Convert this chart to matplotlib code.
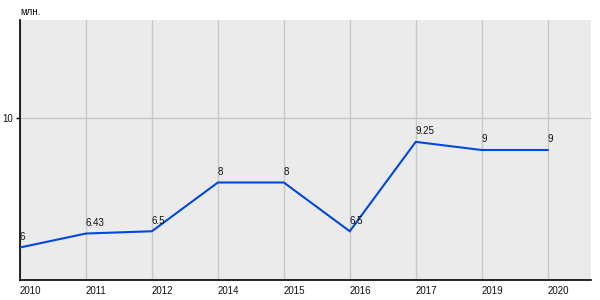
import matplotlib
matplotlib.use("Agg")
from matplotlib import pyplot as plt

years = ["2010", "2011", "2012", "2014", "2015", "2016", "2017", "2019", "2020"]
values = [6, 6.43, 6.5, 8, 8, 6.5, 9.25, 9, 9]
value_labels = ["6", "6.43", "6.5", "8", "8", "6.5", "9.25", "9", "9"]
y_ticks = [10]
unit_label = "млн."

plt.rcParams["font.family"] = ["Liberation Sans", "DejaVu Sans"]

fig = plt.figure(figsize=(6, 3), dpi=100)
ax = fig.add_axes([20 / 600, 20 / 300, 570.5 / 600, 260 / 300])
ax.set_facecolor("#ebebeb")

x = list(range(len(years)))
ax.plot(x, values, color="#0048e0", linewidth=1.5, solid_joinstyle="miter", zorder=3)

for xi, v, lab in zip(x, values, value_labels):
    ax.annotate(
        lab,
        (xi, v),
        xytext=(0, 4),
        textcoords="offset points",
        ha="left",
        va="bottom",
        fontsize=7,
        color="#111111",
    )

ax.set_xlim(0, 8.65)
ax.set_ylim(5, 13)
ax.set_xticks(x)
ax.set_xticklabels(years, ha="left", fontsize=7, color="#111111")
ax.set_yticks(y_ticks)
ax.set_yticklabels([str(t) for t in y_ticks], fontsize=7, color="#111111")
ax.tick_params(axis="x", length=0, pad=4)
ax.tick_params(axis="y", length=3, width=1, pad=2)

ax.grid(True, color="#c8c8c8", linewidth=1)
ax.set_axisbelow(True)

for side in ["top", "right"]:
    ax.spines[side].set_visible(False)
for side in ["left", "bottom"]:
    ax.spines[side].set_color("black")
    ax.spines[side].set_linewidth(1.2)

ax.text(0, 1.012, unit_label, transform=ax.transAxes, ha="left", va="bottom",
        fontsize=7, color="#111111")

fig.savefig("out.png", dpi=100)
